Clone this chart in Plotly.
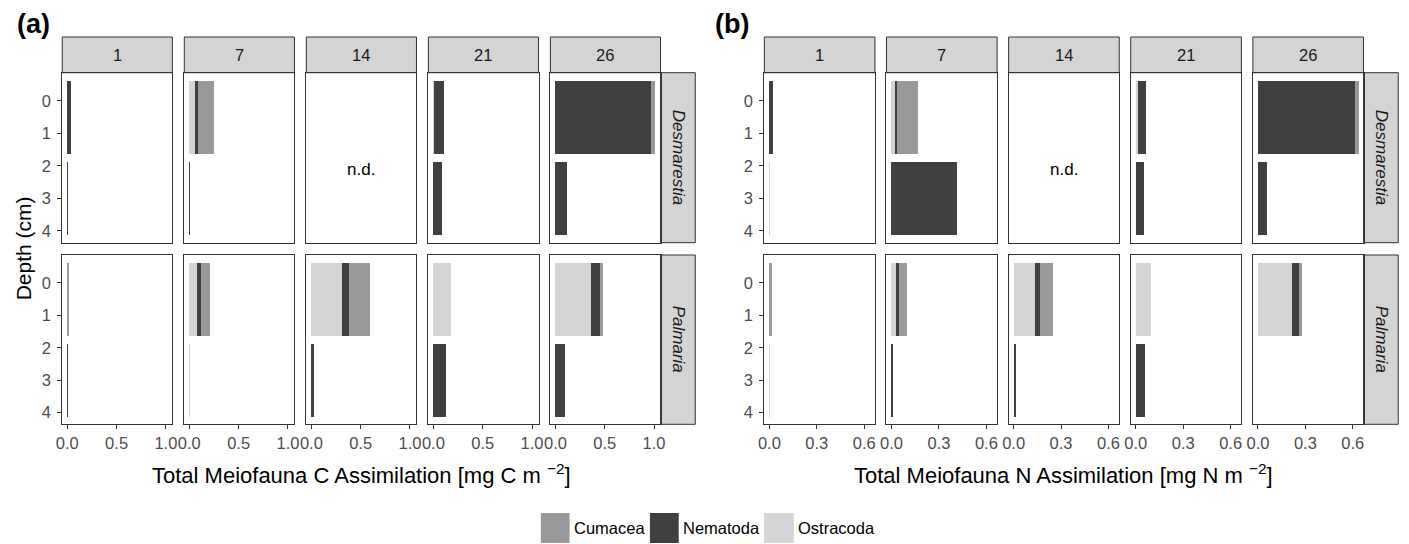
import plotly.graph_objects as go

# ---------------- data ----------------
days = [1, 7, 14, 21, 26]
day_labels = ["1", "7", "14", "21", "26"]
depth_centers = [0.5, 3.0]          # depth layers 0-1 cm and 2-4 cm
depth_ticks = [0, 1, 2, 3, 4]
sites = ["Desmarestia", "Palmaria"]
taxa = ["Ostracoda", "Nematoda", "Cumacea"]   # stacking order from 0
legend_order = ["Cumacea", "Nematoda", "Ostracoda"]
taxon_colors = {"Cumacea": "#999999", "Nematoda": "#404040", "Ostracoda": "#d4d4d4"}

# values per day: (depth 0-1, depth 2-4); None = not determined
C_DES_OSTRACODA = [(0, 0), (0.06, 0), None, (0.005, 0), (0, 0)]
C_DES_NEMATODA = [(0.04, 0.005), (0.035, 0.008), None, (0.105, 0.087), (0.97, 0.123)]
C_DES_CUMACEA = [(0, 0), (0.16, 0), None, (0, 0), (0.045, 0)]

C_PAL_OSTRACODA = [(0, 0), (0.08, 0.003), (0.31, 0), (0.187, 0), (0.367, 0)]
C_PAL_NEMATODA = [(0, 0.004), (0.037, 0), (0.073, 0.033), (0, 0.127), (0.09, 0.097)]
C_PAL_CUMACEA = [(0.02, 0), (0.10, 0), (0.22, 0), (0, 0), (0.033, 0)]

N_DES_OSTRACODA = [(0, 0.003), (0.023, 0), None, (0.01, 0), (0, 0)]
N_DES_NEMATODA = [(0.025, 0), (0.017, 0.42), None, (0.052, 0.048), (0.611, 0.058)]
N_DES_CUMACEA = [(0, 0), (0.132, 0), None, (0, 0), (0.025, 0)]

N_PAL_OSTRACODA = [(0, 0.003), (0.029, 0), (0.135, 0), (0.095, 0), (0.213, 0)]
N_PAL_NEMATODA = [(0, 0), (0.019, 0.008), (0.031, 0.012), (0, 0.058), (0.046, 0)]
N_PAL_CUMACEA = [(0.02, 0), (0.05, 0), (0.083, 0), (0, 0), (0.019, 0)]

C_ticks = [0.0, 0.5, 1.0]
C_tick_labels = ["0.0", "0.5", "1.0"]
N_ticks = [0.0, 0.3, 0.6]
N_tick_labels = ["0.0", "0.3", "0.6"]

C_title = "Total Meiofauna C Assimilation [mg C m <sup>\u22122</sup>]"
N_title = "Total Meiofauna N Assimilation [mg N m <sup>\u22122</sup>]"

C_data = {
    "Desmarestia": {"Ostracoda": C_DES_OSTRACODA, "Nematoda": C_DES_NEMATODA, "Cumacea": C_DES_CUMACEA},
    "Palmaria": {"Ostracoda": C_PAL_OSTRACODA, "Nematoda": C_PAL_NEMATODA, "Cumacea": C_PAL_CUMACEA},
}
N_data = {
    "Desmarestia": {"Ostracoda": N_DES_OSTRACODA, "Nematoda": N_DES_NEMATODA, "Cumacea": N_DES_CUMACEA},
    "Palmaria": {"Ostracoda": N_PAL_OSTRACODA, "Nematoda": N_PAL_NEMATODA, "Cumacea": N_PAL_CUMACEA},
}

# ---------------- layout helpers ----------------
W, H = 1409, 544
FONT = "Liberation Sans, Arial, sans-serif"
BORDER = "#333333"
STRIP = "#d4d4d4"


def px(x):
    return x / W


def py(y):
    return 1 - y / H


groups = [
    dict(name="(a)", data=C_data, ticks=C_ticks, ticklab=C_tick_labels, title=C_title,
         x0=56.7, step=123.0, pw=111.0, label_x=9, ytitle=True),
    dict(name="(b)", data=N_data, ticks=N_ticks, ticklab=N_tick_labels, title=N_title,
         x0=764.3, step=123.1, pw=111.5, label_x=713, ytitle=False),
]
rows_px = [(72.7, 242.7), (255.0, 424.3)]
strip_top = (37.0, 72.7)
strip_w = 35.0

fig = go.Figure()
layout = {}
shapes = []
annotations = []

# y range with 5% expansion around bar extents (width 2.25)
bar_width = 2.25
ylo = min(depth_centers) - bar_width / 2
yhi = max(depth_centers) + bar_width / 2
ypad = 0.05 * (yhi - ylo)
y_range = [yhi + ypad, ylo - ypad]

k = 0
for g in groups:
    # x range: max stacked total
    tot = 0
    for s in sites:
        for di in range(len(days)):
            for dep in range(2):
                ssum = 0
                for t in taxa:
                    v = g["data"][s][t][di]
                    if v is not None:
                        ssum += v[dep]
                tot = max(tot, ssum)
    xpad = 0.05 * tot
    x_range = [-xpad, tot + xpad]

    for ri, s in enumerate(sites):
        top, bot = rows_px[ri]
        for ci, d in enumerate(days):
            k += 1
            xa = "x" if k == 1 else f"x{k}"
            ya = "y" if k == 1 else f"y{k}"
            left = g["x0"] + ci * g["step"]
            right = left + g["pw"]
            nd = g["data"][s][taxa[0]][ci] is None
            if not nd:
                for t in taxa:
                    vals = g["data"][s][t][ci]
                    fig.add_trace(go.Bar(
                        x=list(vals), y=depth_centers, orientation="h", width=bar_width,
                        marker=dict(color=taxon_colors[t], line=dict(width=0)),
                        name=t, showlegend=False, xaxis=xa, yaxis=ya, hoverinfo="skip",
                    ))
            else:
                fig.add_trace(go.Scatter(x=[], y=[], mode="markers", showlegend=False,
                                         xaxis=xa, yaxis=ya, hoverinfo="skip"))
                annotations.append(dict(text="n.d.", x=sum(x_range) / 2, y=2.1, xref=xa, yref=ya,
                                        xanchor="center", yanchor="middle",
                                        showarrow=False, font=dict(family=FONT, size=17, color="#000000")))
            bottom_row = ri == 1
            layout["xaxis" if k == 1 else f"xaxis{k}"] = dict(
                domain=[px(left), px(right)], anchor=ya, range=x_range, fixedrange=True,
                showgrid=False, zeroline=False, showline=True, mirror=True,
                linecolor=BORDER, linewidth=1,
                tickmode="array", tickvals=g["ticks"], ticktext=g["ticklab"],
                ticks="outside" if bottom_row else "", ticklen=4, tickwidth=1, tickcolor=BORDER,
                showticklabels=bottom_row,
                tickfont=dict(family=FONT, size=16.5, color="#4d4d4d"),
            )
            layout["yaxis" if k == 1 else f"yaxis{k}"] = dict(
                domain=[py(bot), py(top)], anchor=xa, range=y_range, fixedrange=True,
                showgrid=False, zeroline=False, showline=True, mirror=True,
                linecolor=BORDER, linewidth=1,
                tickmode="array", tickvals=depth_ticks, ticktext=[str(v) for v in depth_ticks],
                ticks="outside" if ci == 0 else "", ticklen=4, tickwidth=1, tickcolor=BORDER,
                showticklabels=(ci == 0), ticklabelstandoff=3,
                tickfont=dict(family=FONT, size=16.5, color="#4d4d4d"),
            )
            # top strips (only first row)
            if ri == 0:
                shapes.append(dict(type="rect", xref="paper", yref="paper",
                                   x0=px(left), x1=px(right), y0=py(strip_top[1]), y1=py(strip_top[0]),
                                   fillcolor=STRIP, line=dict(color=BORDER, width=1), layer="below"))
                annotations.append(dict(text=day_labels[ci], xref="paper", yref="paper",
                                        x=px((left + right) / 2), y=py(sum(strip_top) / 2),
                                        xanchor="center", yanchor="middle",
                                        showarrow=False, font=dict(family=FONT, size=16.5, color="#1a1a1a")))
        # right strip
        last_right = g["x0"] + 4 * g["step"] + g["pw"]
        shapes.append(dict(type="rect", xref="paper", yref="paper",
                           x0=px(last_right), x1=px(last_right + strip_w), y0=py(bot), y1=py(top),
                           fillcolor=STRIP, line=dict(color=BORDER, width=1), layer="below"))
        annotations.append(dict(text=f"<i>{s}</i>", xref="paper", yref="paper",
                                x=px(last_right + strip_w / 2), y=py((top + bot) / 2), textangle=90,
                                xanchor="center", yanchor="middle",
                                showarrow=False, font=dict(family=FONT, size=17, color="#1a1a1a")))
    # group label
    annotations.append(dict(text=f"<b>{g['name']}</b>", xref="paper", yref="paper",
                            x=px(g["label_x"]), y=py(24), xanchor="left", yanchor="middle",
                            showarrow=False, font=dict(family=FONT, size=27, color="#000000")))
    # x axis title
    gl = g["x0"]
    gr = g["x0"] + 4 * g["step"] + g["pw"]
    annotations.append(dict(text=g["title"], xref="paper", yref="paper",
                            x=px((gl + gr) / 2), y=py(474), xanchor="center", yanchor="middle",
                            showarrow=False, font=dict(family=FONT, size=22, color="#000000")))
    # y axis title (left group only)
    if g["ytitle"]:
        annotations.append(dict(text="Depth (cm)", xref="paper", yref="paper",
                                x=px(18), y=py((rows_px[0][0] + rows_px[1][1]) / 2),
                                textangle=-90, xanchor="center", yanchor="middle",
                                showarrow=False, font=dict(family=FONT, size=21, color="#000000")))

# legend (manual keys)
leg_keys = {"Cumacea": (539, 568), "Nematoda": (649, 678), "Ostracoda": (764, 794)}
for t in legend_order:
    x0, x1 = leg_keys[t]
    shapes.append(dict(type="rect", xref="paper", yref="paper",
                       x0=px(x0), x1=px(x1), y0=py(543), y1=py(513),
                       fillcolor=taxon_colors[t], line=dict(width=0)))
    annotations.append(dict(text=t, xref="paper", yref="paper", x=px(x1 + 2), y=py(528),
                            xanchor="left", yanchor="middle", showarrow=False,
                            font=dict(family=FONT, size=16.5, color="#000000")))

fig.update_layout(
    width=W, height=H, margin=dict(l=0, r=0, t=0, b=0),
    paper_bgcolor="white", plot_bgcolor="white",
    barmode="stack", bargap=0, showlegend=False,
    shapes=shapes, annotations=annotations, **layout,
)

fig.write_html("out.html", config={"displayModeBar": False},
               post_script="document.body.style.margin='0';document.body.style.overflow='hidden';")
